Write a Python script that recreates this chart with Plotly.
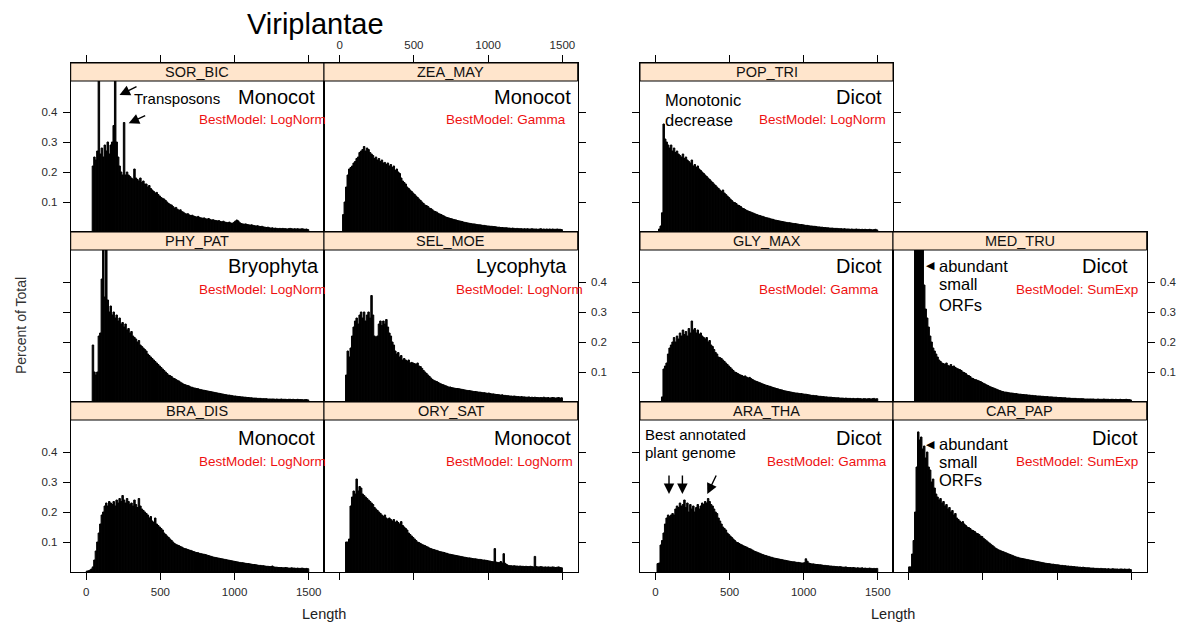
import plotly.graph_objects as go

W, H = 1200, 643
BIN = 10
X_TICKS = [0, 500, 1000, 1500]
Y_TICKS = [0.1, 0.2, 0.3, 0.4]
X_RANGE = [-105, 1603]
FONT = "Liberation Sans, Arial, sans-serif"

# ---------------- data: percent of total per 10-unit length bin -------------
sor_bic_start = 40
sor_bic = [
    0.22, 0.25, 0.24, 0.27, 0.60, 0.26, 0.28, 0.25, 0.29, 0.27,
    0.30, 0.26, 0.29, 0.30, 0.355, 0.60, 0.30, 0.25, 0.22, 0.20,
    0.19, 0.365, 0.19, 0.20, 0.19, 0.185, 0.18, 0.175, 0.21, 0.18,
    0.175, 0.17, 0.18, 0.165, 0.17, 0.16, 0.16, 0.15, 0.155, 0.145,
    0.14, 0.135, 0.13, 0.132, 0.125, 0.12, 0.115, 0.112, 0.11, 0.105,
    0.10, 0.095, 0.092, 0.09, 0.085, 0.08, 0.082, 0.076, 0.072, 0.074,
    0.068, 0.066, 0.062, 0.06, 0.061, 0.057, 0.055, 0.056, 0.053, 0.051,
    0.05, 0.052, 0.048, 0.047, 0.046, 0.047, 0.044, 0.043, 0.045, 0.042,
    0.04, 0.041, 0.039, 0.038, 0.037, 0.038, 0.035, 0.034, 0.036, 0.033,
    0.032, 0.031, 0.033, 0.03, 0.029, 0.032, 0.036, 0.04, 0.037, 0.031,
    0.028, 0.027, 0.026, 0.027, 0.025, 0.024, 0.023, 0.024, 0.022, 0.021,
    0.02, 0.021, 0.019, 0.018, 0.019, 0.017, 0.016, 0.015, 0.016, 0.014,
    0.013, 0.014, 0.012, 0.013, 0.012, 0.011, 0.012, 0.011, 0.012, 0.011,
    0.011, 0.01, 0.011, 0.012, 0.011, 0.01, 0.011, 0.01, 0.011, 0.01,
    0.01, 0.011, 0.01, 0.009, 0.01, 0.008,
]

zea_may_start = 20
zea_may = [
    0.058, 0.10, 0.15, 0.19, 0.21, 0.215, 0.22, 0.23, 0.235, 0.245,
    0.25, 0.265, 0.27, 0.275, 0.285, 0.27, 0.28, 0.275, 0.265, 0.26,
    0.255, 0.245, 0.25, 0.24, 0.245, 0.235, 0.24, 0.23, 0.232, 0.225,
    0.23, 0.22, 0.225, 0.215, 0.22, 0.205, 0.21, 0.20, 0.195, 0.18,
    0.17, 0.165, 0.16, 0.15, 0.145, 0.14, 0.135, 0.13, 0.125, 0.12,
    0.115, 0.11, 0.105, 0.10, 0.095, 0.09, 0.088, 0.085, 0.08, 0.078,
    0.074, 0.07, 0.068, 0.066, 0.062, 0.06, 0.058, 0.055, 0.053, 0.05,
    0.048, 0.047, 0.045, 0.044, 0.042, 0.041, 0.04, 0.038, 0.037, 0.036,
    0.035, 0.033, 0.032, 0.031, 0.03, 0.029, 0.028, 0.027, 0.027, 0.026,
    0.025, 0.024, 0.024, 0.023, 0.022, 0.022, 0.021, 0.02, 0.02, 0.019,
    0.019, 0.018, 0.018, 0.017, 0.016, 0.016, 0.015, 0.015, 0.014, 0.014,
    0.014, 0.013, 0.013, 0.012, 0.013, 0.012, 0.011, 0.012, 0.011, 0.011,
    0.011, 0.01, 0.011, 0.01, 0.011, 0.01, 0.01, 0.011, 0.01, 0.01,
    0.01, 0.009, 0.01, 0.011, 0.009, 0.01, 0.009, 0.01, 0.009, 0.01,
    0.009, 0.01, 0.009, 0.009, 0.01, 0.009, 0.009, 0.008,
]

pop_tri_start = 20
pop_tri = [
    0.01, 0.02, 0.064, 0.36, 0.31, 0.30, 0.29, 0.28, 0.29, 0.27,
    0.28, 0.265, 0.27, 0.26, 0.255, 0.25, 0.26, 0.245, 0.25, 0.24,
    0.235, 0.23, 0.24, 0.22, 0.225, 0.215, 0.22, 0.21, 0.205, 0.20,
    0.195, 0.19, 0.185, 0.18, 0.175, 0.17, 0.165, 0.16, 0.155, 0.15,
    0.145, 0.14, 0.135, 0.14, 0.13, 0.125, 0.12, 0.115, 0.11, 0.105,
    0.10, 0.098, 0.095, 0.09, 0.088, 0.085, 0.08, 0.078, 0.075, 0.072,
    0.07, 0.068, 0.066, 0.064, 0.062, 0.06, 0.058, 0.056, 0.055, 0.053,
    0.052, 0.05, 0.048, 0.047, 0.046, 0.044, 0.043, 0.042, 0.04, 0.039,
    0.038, 0.037, 0.036, 0.035, 0.034, 0.033, 0.032, 0.031, 0.031, 0.03,
    0.029, 0.028, 0.028, 0.027, 0.026, 0.025, 0.025, 0.024, 0.023, 0.022,
    0.022, 0.021, 0.02, 0.02, 0.019, 0.019, 0.018, 0.017, 0.017, 0.016,
    0.016, 0.015, 0.015, 0.014, 0.014, 0.013, 0.013, 0.013, 0.012, 0.012,
    0.012, 0.011, 0.011, 0.011, 0.01, 0.011, 0.01, 0.01, 0.01, 0.009,
    0.01, 0.009, 0.009, 0.01, 0.009, 0.009, 0.008, 0.009, 0.008, 0.009,
    0.008, 0.008, 0.009, 0.008, 0.007, 0.008, 0.009, 0.007,
]

phy_pat_start = 40
phy_pat = [
    0.19, 0.10, 0.09, 0.10, 0.22, 0.23, 0.41, 0.60, 0.35, 0.60,
    0.34, 0.30, 0.32, 0.29, 0.30, 0.28, 0.29, 0.27, 0.28, 0.26,
    0.265, 0.25, 0.26, 0.24, 0.245, 0.23, 0.235, 0.22, 0.215, 0.21,
    0.20, 0.205, 0.19, 0.185, 0.18, 0.175, 0.17, 0.16, 0.155, 0.15,
    0.145, 0.14, 0.135, 0.13, 0.125, 0.12, 0.115, 0.11, 0.105, 0.10,
    0.095, 0.09, 0.088, 0.085, 0.08, 0.078, 0.075, 0.072, 0.07, 0.066,
    0.063, 0.06, 0.058, 0.056, 0.055, 0.053, 0.05, 0.049, 0.047, 0.046,
    0.045, 0.044, 0.042, 0.041, 0.04, 0.039, 0.038, 0.037, 0.036, 0.035,
    0.034, 0.033, 0.032, 0.031, 0.03, 0.029, 0.028, 0.027, 0.026, 0.025,
    0.024, 0.023, 0.023, 0.022, 0.021, 0.02, 0.02, 0.019, 0.018, 0.018,
    0.017, 0.017, 0.016, 0.016, 0.015, 0.015, 0.014, 0.014, 0.013, 0.013,
    0.013, 0.012, 0.012, 0.012, 0.011, 0.011, 0.011, 0.011, 0.01, 0.01,
    0.01, 0.01, 0.01, 0.009, 0.01, 0.009, 0.009, 0.01, 0.009, 0.009,
    0.009, 0.008, 0.009, 0.009, 0.008, 0.009, 0.008, 0.008, 0.009, 0.008,
    0.008, 0.008, 0.007, 0.008, 0.008, 0.007,
]

sel_moe_start = 40
sel_moe = [
    0.09, 0.17, 0.15, 0.18, 0.22, 0.25, 0.27, 0.28, 0.26, 0.29,
    0.30, 0.28, 0.30, 0.27, 0.29, 0.30, 0.28, 0.355, 0.29, 0.22,
    0.215, 0.22, 0.26, 0.27, 0.255, 0.27, 0.26, 0.275, 0.25, 0.23,
    0.22, 0.20, 0.19, 0.17, 0.16, 0.165, 0.15, 0.155, 0.14, 0.145,
    0.14, 0.135, 0.14, 0.13, 0.132, 0.13, 0.128, 0.125, 0.13, 0.12,
    0.118, 0.112, 0.105, 0.10, 0.095, 0.09, 0.085, 0.08, 0.075, 0.072,
    0.07, 0.068, 0.065, 0.062, 0.06, 0.058, 0.056, 0.054, 0.052, 0.05,
    0.05, 0.048, 0.047, 0.046, 0.045, 0.045, 0.044, 0.043, 0.042, 0.041,
    0.04, 0.039, 0.038, 0.038, 0.037, 0.036, 0.035, 0.035, 0.034, 0.033,
    0.033, 0.032, 0.031, 0.031, 0.03, 0.029, 0.03, 0.028, 0.027, 0.027,
    0.026, 0.025, 0.025, 0.024, 0.023, 0.024, 0.022, 0.022, 0.021, 0.021,
    0.02, 0.02, 0.019, 0.02, 0.019, 0.018, 0.018, 0.017, 0.018, 0.017,
    0.017, 0.016, 0.016, 0.017, 0.015, 0.016, 0.015, 0.016, 0.015, 0.015,
    0.014, 0.015, 0.014, 0.016, 0.014, 0.014, 0.015, 0.013, 0.014, 0.015,
    0.014, 0.013, 0.014, 0.015, 0.013, 0.014,
]

gly_max_start = 40
gly_max = [
    0.017, 0.11, 0.12, 0.13, 0.16, 0.18, 0.19, 0.20, 0.215, 0.20,
    0.22, 0.21, 0.23, 0.22, 0.24, 0.225, 0.235, 0.22, 0.245, 0.23,
    0.27, 0.24, 0.245, 0.23, 0.24, 0.225, 0.23, 0.22, 0.215, 0.21,
    0.215, 0.20, 0.205, 0.19, 0.185, 0.175, 0.165, 0.16, 0.15, 0.148,
    0.145, 0.14, 0.135, 0.13, 0.125, 0.12, 0.115, 0.11, 0.105, 0.10,
    0.098, 0.095, 0.092, 0.09, 0.088, 0.085, 0.087, 0.083, 0.08, 0.082,
    0.078, 0.075, 0.072, 0.07, 0.068, 0.066, 0.064, 0.062, 0.06, 0.058,
    0.056, 0.055, 0.053, 0.052, 0.05, 0.048, 0.047, 0.045, 0.044, 0.042,
    0.041, 0.04, 0.038, 0.037, 0.036, 0.035, 0.034, 0.033, 0.032, 0.031,
    0.03, 0.03, 0.029, 0.028, 0.028, 0.027, 0.026, 0.026, 0.025, 0.024,
    0.023, 0.022, 0.022, 0.021, 0.021, 0.02, 0.019, 0.019, 0.018, 0.018,
    0.017, 0.017, 0.016, 0.016, 0.016, 0.015, 0.015, 0.014, 0.014, 0.014,
    0.013, 0.013, 0.013, 0.012, 0.013, 0.012, 0.012, 0.012, 0.011, 0.012,
    0.011, 0.011, 0.012, 0.011, 0.011, 0.01, 0.011, 0.011, 0.01, 0.011,
    0.011, 0.01, 0.011, 0.012, 0.01, 0.011,
]

med_tru_start = 40
med_tru = [
    0.60, 0.60, 0.60, 0.60, 0.60, 0.60, 0.39, 0.31, 0.28, 0.25,
    0.22, 0.20, 0.18, 0.17, 0.16, 0.15, 0.14, 0.135, 0.13, 0.128,
    0.125, 0.13, 0.122, 0.12, 0.125, 0.118, 0.12, 0.115, 0.112, 0.11,
    0.108, 0.105, 0.10, 0.098, 0.095, 0.09, 0.088, 0.085, 0.08, 0.078,
    0.075, 0.074, 0.072, 0.07, 0.068, 0.065, 0.062, 0.06, 0.057, 0.055,
    0.052, 0.05, 0.048, 0.046, 0.044, 0.042, 0.04, 0.038, 0.036, 0.035,
    0.033, 0.033, 0.032, 0.031, 0.03, 0.03, 0.029, 0.028, 0.028, 0.027,
    0.026, 0.026, 0.025, 0.025, 0.024, 0.024, 0.023, 0.023, 0.022, 0.022,
    0.021, 0.021, 0.02, 0.02, 0.02, 0.019, 0.019, 0.018, 0.018, 0.018,
    0.017, 0.017, 0.017, 0.016, 0.016, 0.016, 0.015, 0.015, 0.015, 0.014,
    0.014, 0.014, 0.013, 0.013, 0.013, 0.012, 0.012, 0.012, 0.012, 0.011,
    0.011, 0.011, 0.011, 0.011, 0.01, 0.01, 0.01, 0.01, 0.01, 0.01,
    0.01, 0.009, 0.009, 0.01, 0.009, 0.009, 0.009, 0.01, 0.009, 0.009,
    0.009, 0.008, 0.009, 0.009, 0.008, 0.009, 0.008, 0.008, 0.009, 0.008,
    0.008, 0.008, 0.009, 0.008, 0.008, 0.007,
]

bra_dis_start = 0
bra_dis = [
    0.003, 0.004, 0.006, 0.01, 0.017, 0.04, 0.07, 0.10, 0.13, 0.16,
    0.19, 0.20, 0.22, 0.23, 0.22, 0.235, 0.23, 0.225, 0.235, 0.22,
    0.24, 0.23, 0.245, 0.235, 0.255, 0.24, 0.23, 0.245, 0.235, 0.225,
    0.23, 0.22, 0.24, 0.225, 0.215, 0.245, 0.22, 0.21, 0.205, 0.20,
    0.195, 0.19, 0.18, 0.185, 0.17, 0.165, 0.18, 0.16, 0.155, 0.15,
    0.145, 0.14, 0.13, 0.125, 0.12, 0.115, 0.11, 0.105, 0.10, 0.095,
    0.092, 0.09, 0.088, 0.085, 0.083, 0.08, 0.078, 0.077, 0.075, 0.073,
    0.072, 0.07, 0.068, 0.066, 0.065, 0.064, 0.062, 0.061, 0.06, 0.059,
    0.058, 0.056, 0.055, 0.053, 0.052, 0.05, 0.049, 0.048, 0.047, 0.046,
    0.045, 0.044, 0.043, 0.042, 0.041, 0.04, 0.039, 0.038, 0.037, 0.036,
    0.035, 0.034, 0.033, 0.032, 0.031, 0.031, 0.03, 0.029, 0.028, 0.028,
    0.027, 0.026, 0.025, 0.025, 0.024, 0.023, 0.022, 0.022, 0.021, 0.021,
    0.02, 0.019, 0.019, 0.018, 0.018, 0.02, 0.017, 0.016, 0.016, 0.015,
    0.015, 0.015, 0.014, 0.014, 0.015, 0.014, 0.013, 0.013, 0.014, 0.013,
    0.013, 0.012, 0.013, 0.012, 0.012, 0.013, 0.012, 0.011, 0.012, 0.011,
]

ory_sat_start = 40
ory_sat = [
    0.10, 0.10, 0.11, 0.22, 0.25, 0.27, 0.26, 0.31, 0.27, 0.285,
    0.28, 0.26, 0.255, 0.25, 0.245, 0.24, 0.235, 0.23, 0.225, 0.215,
    0.21, 0.205, 0.20, 0.195, 0.19, 0.185, 0.19, 0.18, 0.175, 0.18,
    0.175, 0.17, 0.175, 0.165, 0.17, 0.165, 0.16, 0.168, 0.155, 0.15,
    0.145, 0.14, 0.13, 0.125, 0.12, 0.115, 0.11, 0.105, 0.10, 0.098,
    0.095, 0.092, 0.09, 0.088, 0.085, 0.083, 0.08, 0.078, 0.076, 0.075,
    0.073, 0.072, 0.07, 0.068, 0.067, 0.066, 0.065, 0.063, 0.062, 0.06,
    0.059, 0.058, 0.057, 0.056, 0.055, 0.054, 0.053, 0.052, 0.051, 0.05,
    0.049, 0.048, 0.047, 0.047, 0.046, 0.045, 0.044, 0.044, 0.043, 0.042,
    0.042, 0.041, 0.04, 0.04, 0.039, 0.038, 0.037, 0.036, 0.035, 0.034,
    0.078, 0.033, 0.032, 0.031, 0.035, 0.03, 0.061, 0.029, 0.025, 0.022,
    0.021, 0.021, 0.02, 0.021, 0.02, 0.02, 0.019, 0.02, 0.019, 0.019,
    0.018, 0.019, 0.018, 0.018, 0.019, 0.018, 0.017, 0.052, 0.018, 0.017,
    0.017, 0.018, 0.017, 0.016, 0.017, 0.016, 0.017, 0.016, 0.016, 0.017,
    0.016, 0.015, 0.016, 0.017, 0.015, 0.014,
]

ara_tha_start = 10
ara_tha = [
    0.028, 0.03, 0.09, 0.105, 0.13, 0.16, 0.18, 0.19, 0.185, 0.19,
    0.195, 0.19, 0.21, 0.22, 0.215, 0.23, 0.22, 0.225, 0.24, 0.215,
    0.23, 0.20, 0.225, 0.21, 0.22, 0.20, 0.215, 0.225, 0.21, 0.22,
    0.23, 0.225, 0.235, 0.23, 0.245, 0.235, 0.225, 0.22, 0.21, 0.20,
    0.195, 0.18, 0.17, 0.16, 0.15, 0.145, 0.14, 0.13, 0.125, 0.12,
    0.115, 0.11, 0.105, 0.10, 0.098, 0.095, 0.092, 0.09, 0.087, 0.085,
    0.083, 0.08, 0.078, 0.076, 0.073, 0.07, 0.068, 0.066, 0.064, 0.062,
    0.06, 0.058, 0.056, 0.055, 0.053, 0.052, 0.05, 0.049, 0.047, 0.046,
    0.045, 0.044, 0.043, 0.042, 0.041, 0.04, 0.039, 0.038, 0.037, 0.036,
    0.035, 0.034, 0.034, 0.033, 0.032, 0.032, 0.031, 0.03, 0.03, 0.031,
    0.044, 0.036, 0.03, 0.028, 0.027, 0.027, 0.026, 0.025, 0.025, 0.024,
    0.024, 0.023, 0.022, 0.022, 0.021, 0.021, 0.02, 0.02, 0.019, 0.019,
    0.018, 0.018, 0.017, 0.018, 0.017, 0.016, 0.016, 0.017, 0.015, 0.015,
    0.015, 0.014, 0.015, 0.014, 0.013, 0.014, 0.013, 0.013, 0.014, 0.012,
    0.013, 0.012, 0.012, 0.013, 0.012, 0.011, 0.012, 0.011, 0.012,
]

car_pap_start = 0
car_pap = [
    0.017, 0.017, 0.06, 0.105, 0.20, 0.35, 0.467, 0.44, 0.45, 0.41,
    0.42, 0.38, 0.40, 0.35, 0.34, 0.30, 0.31, 0.28, 0.26, 0.25,
    0.24, 0.245, 0.23, 0.235, 0.22, 0.225, 0.21, 0.215, 0.20, 0.205,
    0.19, 0.195, 0.18, 0.175, 0.17, 0.165, 0.168, 0.16, 0.155, 0.15,
    0.148, 0.145, 0.14, 0.138, 0.135, 0.13, 0.128, 0.125, 0.12, 0.118,
    0.112, 0.108, 0.104, 0.1, 0.096, 0.092, 0.088, 0.084, 0.08, 0.077,
    0.074, 0.072, 0.07, 0.068, 0.066, 0.064, 0.062, 0.06, 0.058, 0.056,
    0.054, 0.052, 0.05, 0.049, 0.047, 0.046, 0.045, 0.044, 0.043, 0.042,
    0.041, 0.04, 0.039, 0.038, 0.037, 0.036, 0.035, 0.034, 0.033, 0.032,
    0.031, 0.03, 0.029, 0.028, 0.028, 0.027, 0.026, 0.026, 0.025, 0.024,
    0.024, 0.023, 0.022, 0.022, 0.021, 0.021, 0.02, 0.02, 0.019, 0.019,
    0.018, 0.018, 0.017, 0.017, 0.016, 0.016, 0.015, 0.016, 0.015, 0.014,
    0.014, 0.014, 0.013, 0.013, 0.013, 0.012, 0.012, 0.012, 0.011, 0.012,
    0.011, 0.011, 0.011, 0.01, 0.011, 0.01, 0.01, 0.011, 0.01, 0.01,
    0.01, 0.009, 0.01, 0.01, 0.009, 0.01, 0.009, 0.009, 0.01, 0.008,
]

# panel: name, data, start, clade label, best model
panels = [
    ("SOR_BIC", sor_bic, sor_bic_start, "Monocot", "LogNorm"),
    ("ZEA_MAY", zea_may, zea_may_start, "Monocot", "Gamma"),
    ("POP_TRI", pop_tri, pop_tri_start, "Dicot", "LogNorm"),
    ("PHY_PAT", phy_pat, phy_pat_start, "Bryophyta", "LogNorm"),
    ("SEL_MOE", sel_moe, sel_moe_start, "Lycophyta", "LogNorm"),
    ("GLY_MAX", gly_max, gly_max_start, "Dicot", "Gamma"),
    ("MED_TRU", med_tru, med_tru_start, "Dicot", "SumExp"),
    ("BRA_DIS", bra_dis, bra_dis_start, "Monocot", "LogNorm"),
    ("ORY_SAT", ory_sat, ory_sat_start, "Monocot", "LogNorm"),
    ("ARA_THA", ara_tha, ara_tha_start, "Dicot", "Gamma"),
    ("CAR_PAP", car_pap, car_pap_start, "Dicot", "SumExp"),
]

# ---------------- layout geometry (pixels) ----------------
COLS = [(70.7, 324.0), (324.0, 577.7), (640.0, 893.0), (893.0, 1146.7)]
ROWS = [(63.0, 232.0), (232.0, 402.0), (402.0, 572.0)]
STRIP = 18.0
PX_PER_UNIT = 300.0

# name: col, row, xside, xticks, xlabels, yside, ylabels, ymirror_ticks, label_x, model_x
cfg = {
    "SOR_BIC": (0, 0, "top", True, False, "left", True, False, 235.6, 197),
    "ZEA_MAY": (1, 0, "top", True, True, "right", False, False, 492, 444),
    "POP_TRI": (2, 0, "top", True, False, "left", False, True, 833.7, 757),
    "PHY_PAT": (0, 1, "bottom", False, False, "left", False, False, 226, 197),
    "SEL_MOE": (1, 1, "bottom", False, False, "right", True, False, 474, 454),
    "GLY_MAX": (2, 1, "bottom", False, False, "left", False, False, 833.7, 757),
    "MED_TRU": (3, 1, "bottom", False, False, "right", True, False, 1080, 1013.8),
    "BRA_DIS": (0, 2, "bottom", True, True, "left", True, False, 235.6, 197),
    "ORY_SAT": (1, 2, "bottom", True, False, "right", False, False, 492, 444),
    "ARA_THA": (2, 2, "bottom", True, True, "left", False, False, 833.7, 764.8),
    "CAR_PAP": (3, 2, "bottom", True, False, "right", False, False, 1089.7, 1013.8),
}
LABEL_DY = [15.5, 15.7, 17.7]
MODEL_DY = [38.5, 40.0, 41.7]


def fx(p):
    return p / W


def fy(p):
    return 1 - p / H


fig = go.Figure()
annotations = []
shapes = []
layout_axes = {}

tickfont = dict(family=FONT, size=11.5, color="#2a2a2a")

for i, (name, vals, start, clade, model) in enumerate(panels, start=1):
    c, r, xside, xt, xl, yside, yl, ymt, lab_x, mod_x = cfg[name]
    x0, x1 = COLS[c]
    y0, y1 = ROWS[r]
    centers = [start + BIN / 2 + BIN * k for k in range(len(vals))]
    fig.add_trace(go.Bar(
        x=centers, y=vals, width=BIN,
        marker=dict(color="black", line=dict(color="black", width=1.0)),
        xaxis=f"x{i}", yaxis=f"y{i}", showlegend=False, hoverinfo="skip",
    ))
    ymax = (y1 - y0) / PX_PER_UNIT
    layout_axes[f"xaxis{i}"] = dict(
        domain=[fx(x0), fx(x1)], anchor=f"y{i}", range=X_RANGE,
        side=xside, ticks="outside" if xt else "", ticklen=7, tickwidth=1,
        tickcolor="black", tickvals=X_TICKS, showticklabels=xl,
        tickfont=tickfont, showline=True, mirror=True, linecolor="black",
        linewidth=1, showgrid=False, zeroline=False, fixedrange=True,
        ticklabelstandoff=1 if xside == "top" else 2,
    )
    layout_axes[f"yaxis{i}"] = dict(
        domain=[fy(y1), fy(y0)], anchor=f"x{i}", range=[0, ymax],
        side=yside, ticks="outside", ticklen=7, tickwidth=1,
        tickcolor="black", tickvals=Y_TICKS, ticktext=["0.1", "0.2", "0.3", "0.4"],
        showticklabels=yl, tickfont=tickfont, showline=True,
        mirror="ticks" if ymt else True, linecolor="black", linewidth=1,
        showgrid=False, zeroline=False, fixedrange=True, ticklabelstandoff=3,
    )
    # strip
    shapes.append(dict(
        type="rect", xref="paper", yref="paper",
        x0=fx(x0), x1=fx(x1), y0=fy(y0 + STRIP), y1=fy(y0),
        fillcolor="#FFE5CC", line=dict(color="black", width=1), layer="above",
    ))
    annotations.append(dict(
        text=name, xref="paper", yref="paper", x=fx((x0 + x1) / 2),
        y=fy(y0 + STRIP / 2), showarrow=False, xanchor="center", yanchor="middle",
        font=dict(family=FONT, size=14.5, color="#111"),
    ))
    annotations.append(dict(
        text=clade, xref="paper", yref="paper", x=fx(lab_x), y=fy(y0 + STRIP + LABEL_DY[r]),
        showarrow=False, xanchor="left", yanchor="middle",
        font=dict(family=FONT, size=20, color="black"),
    ))
    annotations.append(dict(
        text=f"BestModel: {model}", xref="paper", yref="paper", x=fx(mod_x),
        y=fy(y0 + STRIP + MODEL_DY[r]), showarrow=False, xanchor="left", yanchor="middle",
        font=dict(family=FONT, size=13.5, color="#EE1111"),
    ))


def text(t, x, y, size, anchor="left", color="black", angle=0, family=FONT):
    annotations.append(dict(
        text=t, xref="paper", yref="paper", x=fx(x), y=fy(y), showarrow=False,
        xanchor=anchor, yanchor="middle", textangle=angle,
        font=dict(family=family, size=size, color=color),
    ))


def arrow(hx, hy, tx, ty):
    annotations.append(dict(
        text="", xref="paper", yref="paper", x=fx(hx), y=fy(hy),
        ax=tx - hx, ay=ty - hy, axref="pixel", ayref="pixel", showarrow=True,
        arrowhead=2, arrowsize=1.5, arrowwidth=1.4, arrowcolor="black", standoff=0,
    ))


# titles and axis titles
text("Viriplantae", 315, 24, 29, anchor="center")
text("Percent of Total", 21, 326, 14, anchor="center", color="#333", angle=-90)
text("Length", 324, 614, 14.5, anchor="center", color="#222")
text("Length", 893, 614, 14.5, anchor="center", color="#222")

# panel notes
text("Transposons", 132, 98, 15)
arrow(119.5, 95, 138, 86)
arrow(128.7, 123.3, 146.7, 115)
text("Monotonic", 662.5, 100, 16.5)
text("decrease", 662.5, 120, 16.5)
text("◀", 924, 265.7, 11, family="DejaVu Sans")
text("abundant", 937, 265.7, 16.5)
text("small", 937, 284.3, 16.5)
text("ORFs", 937, 305, 16.5)
text("◀", 924, 444.3, 11, family="DejaVu Sans")
text("abundant", 937, 444.3, 16.5)
text("small", 937, 462.3, 16.5)
text("ORFs", 937, 480, 16.5)
text("Best annotated", 643, 434, 15)
text("plant genome", 643, 452.7, 15)
arrow(669, 494, 669, 474)
arrow(682.4, 494, 682.4, 474)
arrow(707.3, 494, 716.9, 474)

fig.update_layout(
    width=W, height=H, autosize=False,
    margin=dict(l=0, r=0, t=0, b=0, pad=0),
    paper_bgcolor="white", plot_bgcolor="white",
    annotations=annotations, shapes=shapes, showlegend=False,
    font=dict(family=FONT),
    **layout_axes,
)

fig.write_html(
    "out.html",
    config={"displayModeBar": False, "staticPlot": True},
    post_script="document.body.style.margin='0';document.body.style.overflow='hidden';",
)
